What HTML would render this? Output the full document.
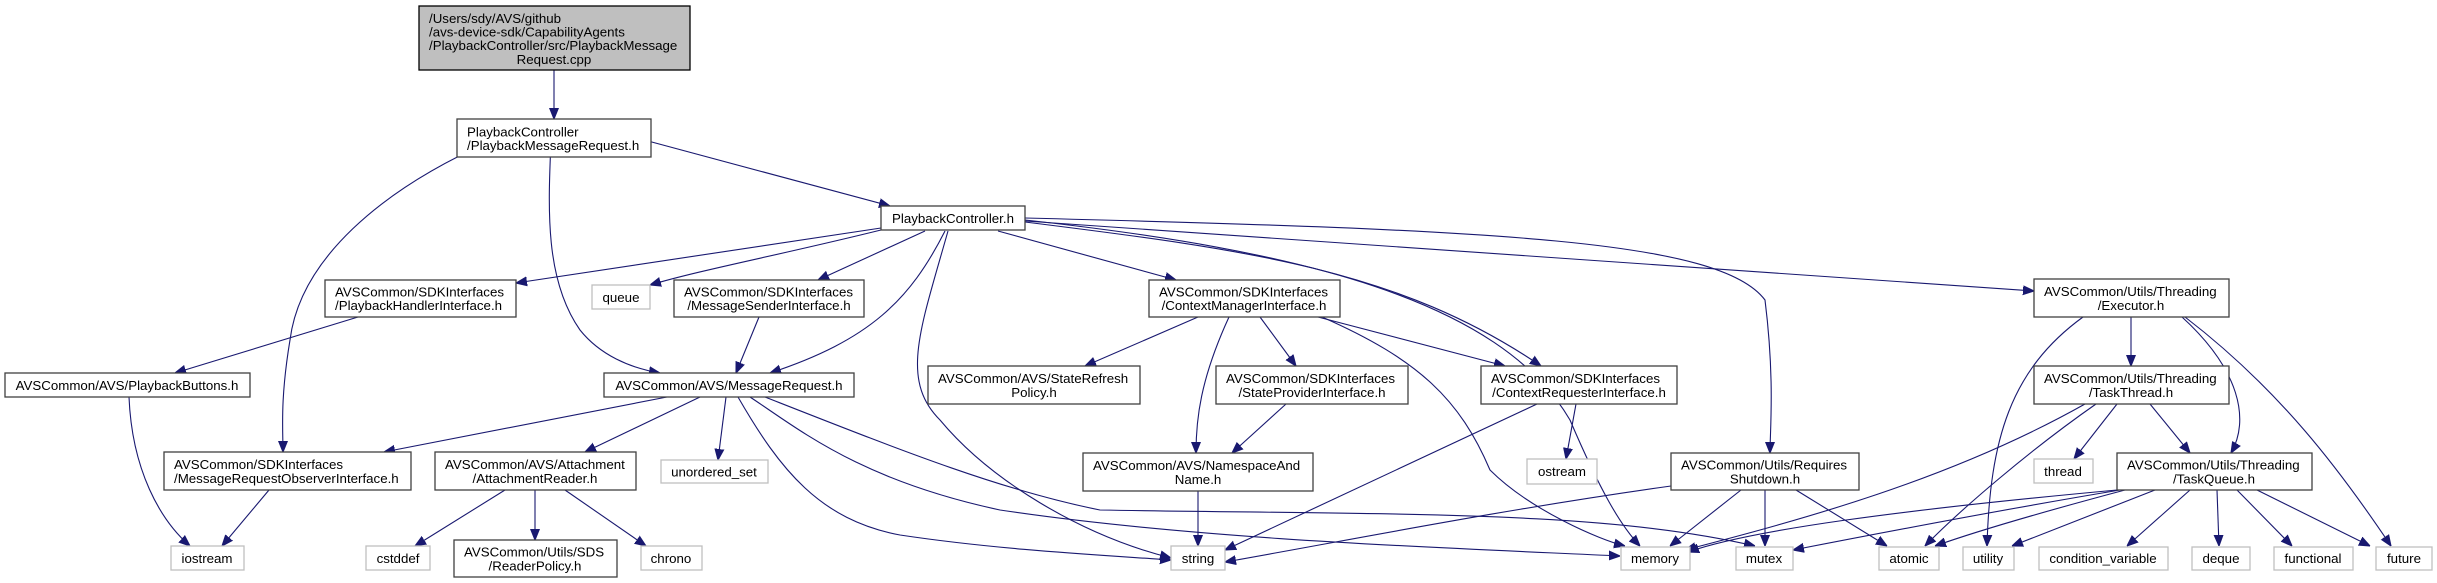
<!DOCTYPE html>
<html><head><meta charset="utf-8"><style>
html,body{margin:0;padding:0;background:#fff;}
svg{display:block;}
text{font-family:"Liberation Sans",Arial,sans-serif;font-size:13.3px;fill:#000;}
.n{fill:#fff;stroke:#404040;stroke-width:1.3;}
.s{fill:#fff;stroke:#bfbfbf;stroke-width:1.3;}
.e{fill:none;stroke:#191970;stroke-width:1.1;}
</style></head><body>
<svg width="2437" height="583" viewBox="0 0 2437 583" xmlns="http://www.w3.org/2000/svg">
<defs><marker id="a" viewBox="0 0 10 10" refX="10" refY="5" markerWidth="11" markerHeight="11" markerUnits="userSpaceOnUse" orient="auto"><path d="M0,1 L10,5 L0,9 z" fill="#191970" stroke="#191970"/></marker></defs>
<g class="edges">
<path class="e" marker-end="url(#a)" d="M554,70 L554,119"/>
<path class="e" marker-end="url(#a)" d="M648,141 L890,206"/>
<path class="e" marker-end="url(#a)" d="M491,141 C380,190 300,260 290,340 C280,400 283,430 283,452"/>
<path class="e" marker-end="url(#a)" d="M551,141 C548,210 545,280 580,330 C600,355 630,368 660,373"/>
<path class="e" marker-end="url(#a)" d="M881,228 L516,283"/>
<path class="e" marker-end="url(#a)" d="M881,230 C780,255 700,270 650,285"/>
<path class="e" marker-end="url(#a)" d="M925,231 L818,280"/>
<path class="e" marker-end="url(#a)" d="M945,231 C910,300 870,340 770,373"/>
<path class="e" marker-end="url(#a)" d="M948,231 C920,330 900,380 940,420 C990,480 1080,535 1171,558"/>
<path class="e" marker-end="url(#a)" d="M998,231 L1176,280"/>
<path class="e" marker-end="url(#a)" d="M1025,222 C1250,250 1400,270 1541,366"/>
<path class="e" marker-end="url(#a)" d="M1025,220 C1300,250 1500,300 1570,420 C1600,490 1620,525 1640,546"/>
<path class="e" marker-end="url(#a)" d="M1025,218 C1500,230 1720,240 1765,300 C1775,380 1770,430 1770,453"/>
<path class="e" marker-end="url(#a)" d="M1025,221 L2034,291"/>
<path class="e" marker-end="url(#a)" d="M358,317 L175,373"/>
<path class="e" marker-end="url(#a)" d="M759,317 L736,373"/>
<path class="e" marker-end="url(#a)" d="M129,397 C132,470 160,520 190,546"/>
<path class="e" marker-end="url(#a)" d="M269,490 L222,546"/>
<path class="e" marker-end="url(#a)" d="M667,397 L384,452"/>
<path class="e" marker-end="url(#a)" d="M700,397 L585,452"/>
<path class="e" marker-end="url(#a)" d="M726,397 L718,460"/>
<path class="e" marker-end="url(#a)" d="M738,397 C780,470 820,520 900,535 C1000,550 1100,555 1171,560"/>
<path class="e" marker-end="url(#a)" d="M750,397 C800,430 860,480 1000,510 C1200,540 1450,548 1620,556"/>
<path class="e" marker-end="url(#a)" d="M765,397 C900,450 1000,490 1100,510 C1400,515 1600,510 1755,546"/>
<path class="e" marker-end="url(#a)" d="M505,490 L415,546"/>
<path class="e" marker-end="url(#a)" d="M535,490 L535,540"/>
<path class="e" marker-end="url(#a)" d="M565,490 L646,546"/>
<path class="e" marker-end="url(#a)" d="M1198,317 L1085,366"/>
<path class="e" marker-end="url(#a)" d="M1229,317 C1200,380 1196,420 1196,453"/>
<path class="e" marker-end="url(#a)" d="M1260,317 L1296,366"/>
<path class="e" marker-end="url(#a)" d="M1318,317 L1505,366"/>
<path class="e" marker-end="url(#a)" d="M1322,317 C1420,360 1460,400 1490,470 C1530,510 1600,540 1625,546"/>
<path class="e" marker-end="url(#a)" d="M1286,404 L1232,453"/>
<path class="e" marker-end="url(#a)" d="M1537,404 L1225,550"/>
<path class="e" marker-end="url(#a)" d="M1576,404 L1566,459"/>
<path class="e" marker-end="url(#a)" d="M1198,491 L1198,546"/>
<path class="e" marker-end="url(#a)" d="M1671,486 C1500,510 1350,540 1225,562"/>
<path class="e" marker-end="url(#a)" d="M1741,490 L1670,546"/>
<path class="e" marker-end="url(#a)" d="M1765,490 L1765,546"/>
<path class="e" marker-end="url(#a)" d="M1796,490 L1887,546"/>
<path class="e" marker-end="url(#a)" d="M2083,317 C2010,370 1990,440 1987,546"/>
<path class="e" marker-end="url(#a)" d="M2131,317 L2131,366"/>
<path class="e" marker-end="url(#a)" d="M2182,317 C2240,370 2250,420 2231,453"/>
<path class="e" marker-end="url(#a)" d="M2185,317 C2280,390 2340,470 2391,546"/>
<path class="e" marker-end="url(#a)" d="M2085,404 C1950,480 1800,520 1685,550"/>
<path class="e" marker-end="url(#a)" d="M2096,404 C2030,450 1960,510 1925,546"/>
<path class="e" marker-end="url(#a)" d="M2117,404 L2074,459"/>
<path class="e" marker-end="url(#a)" d="M2150,404 L2190,453"/>
<path class="e" marker-end="url(#a)" d="M2117,490 C1900,510 1750,530 1688,552"/>
<path class="e" marker-end="url(#a)" d="M2120,490 C2000,510 1870,535 1793,550"/>
<path class="e" marker-end="url(#a)" d="M2125,490 C2050,510 1980,530 1935,546"/>
<path class="e" marker-end="url(#a)" d="M2155,490 L2012,546"/>
<path class="e" marker-end="url(#a)" d="M2190,490 L2127,546"/>
<path class="e" marker-end="url(#a)" d="M2217,490 L2219,546"/>
<path class="e" marker-end="url(#a)" d="M2237,490 L2292,546"/>
<path class="e" marker-end="url(#a)" d="M2257,490 L2370,546"/>
</g>
<g>
<rect x="419" y="6" width="271" height="64" fill="#bfbfbf" stroke="#000" stroke-width="1.3"/>
<text x="429" y="23">/Users/sdy/AVS/github</text>
<text x="429" y="36.5">/avs-device-sdk/CapabilityAgents</text>
<text x="429" y="50">/PlaybackController/src/PlaybackMessage</text>
<text x="554" y="64" text-anchor="middle">Request.cpp</text>

<rect class="n" x="457" y="119" width="194" height="38"/>
<text x="467" y="136.5">PlaybackController</text>
<text x="467" y="150">/PlaybackMessageRequest.h</text>

<rect class="n" x="881" y="206" width="144" height="24"/>
<text x="953" y="223" text-anchor="middle">PlaybackController.h</text>

<rect class="n" x="325" y="280" width="191" height="37"/>
<text x="335" y="296.5">AVSCommon/SDKInterfaces</text>
<text x="335" y="310">/PlaybackHandlerInterface.h</text>

<rect class="s" x="592" y="285" width="58" height="24"/>
<text x="621" y="302" text-anchor="middle">queue</text>

<rect class="n" x="674" y="280" width="190" height="37"/>
<text x="684" y="296.5">AVSCommon/SDKInterfaces</text>
<text x="769" y="310" text-anchor="middle">/MessageSenderInterface.h</text>

<rect class="n" x="1149" y="280" width="191" height="37"/>
<text x="1159" y="296.5">AVSCommon/SDKInterfaces</text>
<text x="1244" y="310" text-anchor="middle">/ContextManagerInterface.h</text>

<rect class="n" x="2034" y="279" width="195" height="38"/>
<text x="2044" y="296">AVSCommon/Utils/Threading</text>
<text x="2131" y="310" text-anchor="middle">/Executor.h</text>

<rect class="n" x="5" y="373" width="245" height="24"/>
<text x="127" y="390" text-anchor="middle">AVSCommon/AVS/PlaybackButtons.h</text>

<rect class="n" x="604" y="373" width="250" height="24"/>
<text x="729" y="390" text-anchor="middle">AVSCommon/AVS/MessageRequest.h</text>

<rect class="n" x="928" y="366" width="212" height="38"/>
<text x="938" y="383">AVSCommon/AVS/StateRefresh</text>
<text x="1034" y="397" text-anchor="middle">Policy.h</text>

<rect class="n" x="1216" y="366" width="192" height="38"/>
<text x="1226" y="383">AVSCommon/SDKInterfaces</text>
<text x="1312" y="397" text-anchor="middle">/StateProviderInterface.h</text>

<rect class="n" x="1481" y="366" width="196" height="38"/>
<text x="1491" y="383">AVSCommon/SDKInterfaces</text>
<text x="1579" y="397" text-anchor="middle">/ContextRequesterInterface.h</text>

<rect class="n" x="2034" y="366" width="195" height="38"/>
<text x="2044" y="383">AVSCommon/Utils/Threading</text>
<text x="2131" y="397" text-anchor="middle">/TaskThread.h</text>

<rect class="n" x="164" y="452" width="247" height="38"/>
<text x="174" y="469">AVSCommon/SDKInterfaces</text>
<text x="174" y="483">/MessageRequestObserverInterface.h</text>

<rect class="n" x="435" y="452" width="201" height="38"/>
<text x="445" y="469">AVSCommon/AVS/Attachment</text>
<text x="535" y="483" text-anchor="middle">/AttachmentReader.h</text>

<rect class="s" x="661" y="460" width="107" height="23"/>
<text x="714" y="476.5" text-anchor="middle">unordered_set</text>

<rect class="n" x="1083" y="453" width="230" height="38"/>
<text x="1093" y="470">AVSCommon/AVS/NamespaceAnd</text>
<text x="1198" y="484" text-anchor="middle">Name.h</text>

<rect class="s" x="1527" y="459" width="70" height="25"/>
<text x="1562" y="476" text-anchor="middle">ostream</text>

<rect class="n" x="1671" y="453" width="188" height="37"/>
<text x="1681" y="469.5">AVSCommon/Utils/Requires</text>
<text x="1765" y="483.5" text-anchor="middle">Shutdown.h</text>

<rect class="s" x="2034" y="459" width="59" height="24"/>
<text x="2063" y="476" text-anchor="middle">thread</text>

<rect class="n" x="2117" y="453" width="195" height="37"/>
<text x="2127" y="469.5">AVSCommon/Utils/Threading</text>
<text x="2214" y="483.5" text-anchor="middle">/TaskQueue.h</text>

<rect class="s" x="171" y="546" width="73" height="24"/>
<text x="207" y="563" text-anchor="middle">iostream</text>
<rect class="s" x="366" y="546" width="64" height="24"/>
<text x="398" y="563" text-anchor="middle">cstddef</text>
<rect class="n" x="454" y="540" width="163" height="37"/>
<text x="464" y="556.5">AVSCommon/Utils/SDS</text>
<text x="535" y="570.5" text-anchor="middle">/ReaderPolicy.h</text>
<rect class="s" x="641" y="546" width="61" height="24"/>
<text x="671" y="563" text-anchor="middle">chrono</text>
<rect class="s" x="1171" y="546" width="54" height="24"/>
<text x="1198" y="563" text-anchor="middle">string</text>
<rect class="s" x="1621" y="547" width="69" height="23"/>
<text x="1655" y="563" text-anchor="middle">memory</text>
<rect class="s" x="1736" y="547" width="57" height="23"/>
<text x="1764" y="563" text-anchor="middle">mutex</text>
<rect class="s" x="1879" y="547" width="60" height="23"/>
<text x="1909" y="563" text-anchor="middle">atomic</text>
<rect class="s" x="1963" y="547" width="51" height="23"/>
<text x="1988" y="563" text-anchor="middle">utility</text>
<rect class="s" x="2039" y="547" width="129" height="23"/>
<text x="2103" y="563" text-anchor="middle">condition_variable</text>
<rect class="s" x="2192" y="547" width="58" height="23"/>
<text x="2221" y="563" text-anchor="middle">deque</text>
<rect class="s" x="2274" y="547" width="79" height="23"/>
<text x="2313" y="563" text-anchor="middle">functional</text>
<rect class="s" x="2376" y="547" width="56" height="23"/>
<text x="2404" y="563" text-anchor="middle">future</text>
</g>
</svg>
</body></html>
